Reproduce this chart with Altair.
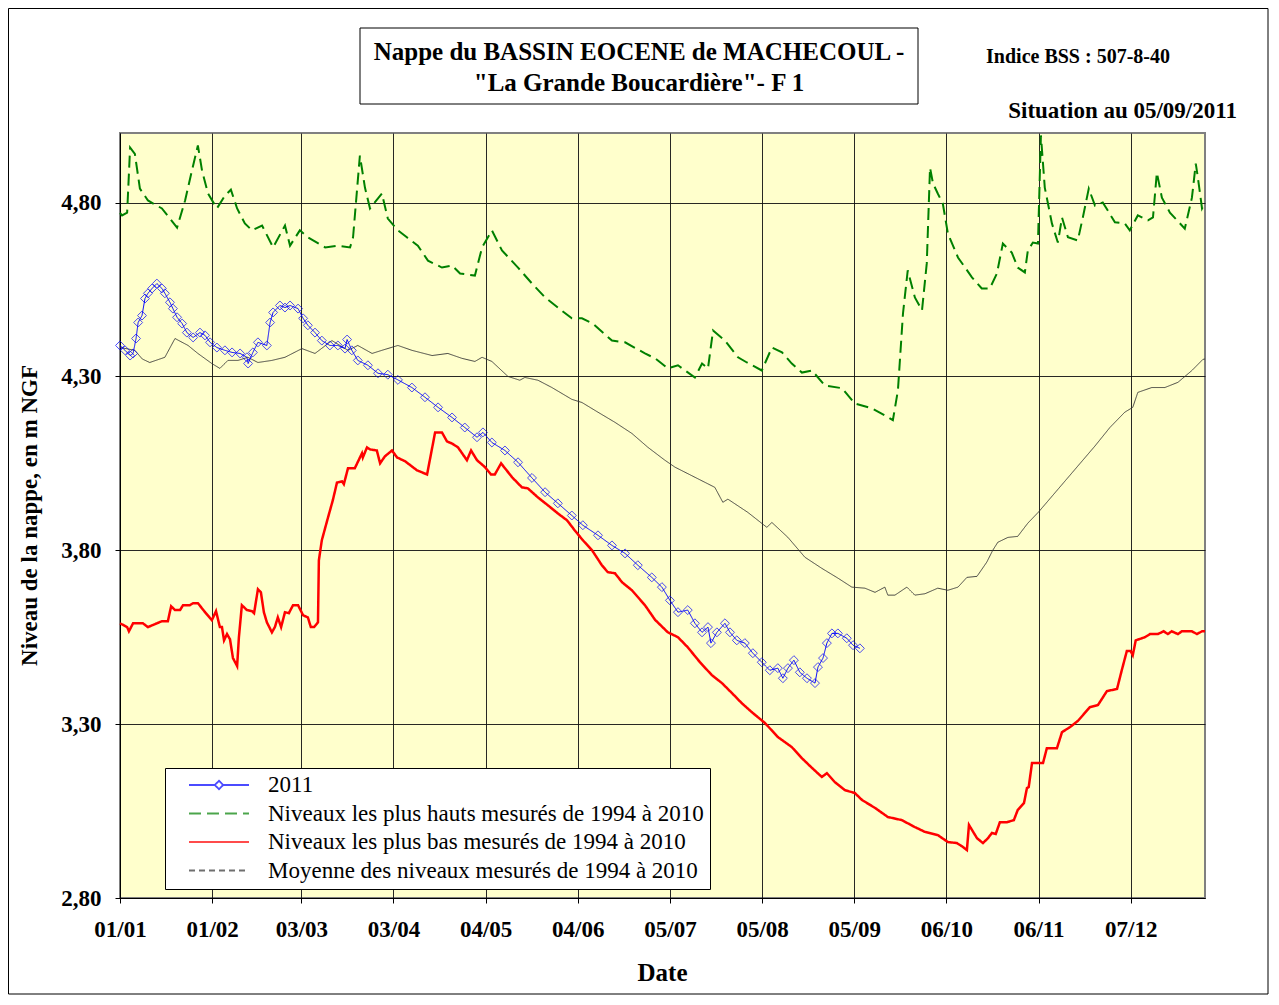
import altair as alt
import pandas as pd

# ---- series names / colours ----
S2011 = "2011"
SMAX = "Niveaux les plus hauts mesurés de 1994 à 2010"
SMIN = "Niveaux les plus bas mesurés de 1994 à 2010"
SMEAN = "Moyenne des niveaux mesurés de 1994 à 2010"
series_names = [S2011, SMAX, SMIN, SMEAN]
series_colors = ["#0000FF", "#008000", "#FF0000", "#333333"]
series_dashes = [[1, 0], [12, 6], [1, 0], [6, 4]]

# ---- axis ticks ----
tick_days = [0, 31, 61, 92, 123, 154, 185, 216, 247, 278, 309, 340]
tick_labels = ["01/01", "01/02", "03/03", "03/04", "04/05", "04/06",
               "05/07", "05/08", "05/09", "06/10", "06/11", "07/12"]
y_ticks = [2.8, 3.3, 3.8, 4.3, 4.8]

# ---- data: (day of year, level in m NGF) ----
niv_2011 = [
    (0, 4.389), (1.7, 4.375), (3.4, 4.36), (4.4, 4.366), (5.4, 4.409), (6.1, 4.455),
    (7.4, 4.475), (8.4, 4.524), (9.4, 4.539), (10.8, 4.553), (12.4, 4.567), (14.1, 4.553),
    (15.1, 4.539), (16.8, 4.513), (17.8, 4.495), (19.2, 4.47), (20.9, 4.452), (22.5, 4.426),
    (24.6, 4.412), (26.9, 4.426), (28.6, 4.418), (30.3, 4.398), (32.6, 4.383), (35.3, 4.375),
    (37.7, 4.369), (40.4, 4.366), (42.7, 4.355), (43.1, 4.337), (44.7, 4.369), (46.4, 4.398),
    (49.4, 4.389), (50.5, 4.455), (51.5, 4.484), (53.8, 4.504), (55.5, 4.498), (57.2, 4.504),
    (59.9, 4.495), (61.6, 4.467), (63.2, 4.447), (65.6, 4.426), (67.9, 4.403), (70.6, 4.389),
    (73.3, 4.389), (75.7, 4.38), (76.4, 4.406), (78, 4.375), (80, 4.346), (83.4, 4.332),
    (86.8, 4.309), (90.1, 4.305), (93.5, 4.29), (98.2, 4.268), (102.6, 4.24), (107, 4.211),
    (111.7, 4.182), (116, 4.153), (120.1, 4.125), (122.1, 4.139), (125.1, 4.11), (129.5, 4.087),
    (133.9, 4.053), (138.6, 4.008), (143, 3.967), (147.3, 3.935), (152, 3.90), (155.7, 3.872),
    (160.8, 3.843), (165.5, 3.814), (169.9, 3.791), (174.2, 3.757), (178.9, 3.722), (182.3, 3.694),
    (185, 3.656), (187.7, 3.622), (191, 3.628), (193.4, 3.59), (195.8, 3.564), (197.8, 3.579),
    (198.8, 3.533), (200.8, 3.564), (203.5, 3.59), (205.2, 3.564), (207.5, 3.541), (210.2, 3.533),
    (212.9, 3.504), (215.9, 3.478), (218.6, 3.455), (221.3, 3.461), (223, 3.432), (224.7, 3.461),
    (226.7, 3.484), (228.7, 3.449), (231.1, 3.432), (233.8, 3.418), (234.8, 3.464), (236.5, 3.49),
    (237.8, 3.533), (239.5, 3.561), (241.5, 3.561), (244.5, 3.547), (246.6, 3.527), (248.9, 3.518),
]

niv_max = [
    (0, 4.77), (0.7, 4.763), (2.4, 4.771), (3.4, 4.958), (5.0, 4.94), (6.7, 4.84), (9.4, 4.806),
    (14.1, 4.783), (19.2, 4.728), (21.9, 4.806), (24.2, 4.892), (26.2, 4.964), (27.6, 4.892),
    (29.6, 4.826), (32.6, 4.783), (35.3, 4.82), (37.3, 4.837), (39.4, 4.783), (42, 4.74),
    (44.4, 4.72), (47.8, 4.734), (51.5, 4.671), (55.5, 4.734), (57.2, 4.676), (60.5, 4.72),
    (63.2, 4.70), (69, 4.671), (73.3, 4.676), (77.4, 4.671), (78.4, 4.70), (80.7, 4.935),
    (82.4, 4.843), (84.1, 4.783), (88.1, 4.826), (90.1, 4.754), (93.5, 4.72), (96.5, 4.70),
    (100.2, 4.676), (103.6, 4.633), (108.3, 4.613), (111.7, 4.619), (114.4, 4.596), (119.4, 4.59),
    (121.8, 4.671), (125.1, 4.72), (128.5, 4.662), (133.9, 4.613), (138.6, 4.567), (143, 4.527),
    (147.3, 4.498), (152, 4.467), (155.4, 4.467), (159.1, 4.452), (165.5, 4.403), (169.9, 4.398),
    (176.6, 4.366), (180, 4.352), (184.3, 4.323), (187.7, 4.332), (193.4, 4.297), (195.8, 4.337),
    (197.8, 4.323), (199.5, 4.432), (203.5, 4.403), (207.9, 4.355), (210.9, 4.34), (215.9, 4.317),
    (219.3, 4.383), (222.7, 4.369), (226, 4.337), (229.4, 4.311), (232.8, 4.317), (237.1, 4.274),
    (242.9, 4.266), (247.2, 4.222), (253, 4.208), (257.3, 4.188), (260, 4.174), (261.7, 4.26),
    (263.4, 4.481), (265, 4.605), (267.4, 4.527), (269.8, 4.49), (271.4, 4.625), (272.5, 4.90),
    (273.5, 4.855), (275.1, 4.826), (276.8, 4.797), (278.5, 4.711), (281.9, 4.642), (286.6, 4.585),
    (289.9, 4.553), (292.6, 4.553), (295, 4.596), (297, 4.682), (300, 4.656), (302, 4.613),
    (304.4, 4.599), (305.4, 4.662), (307.1, 4.685), (308.8, 4.682), (309.8, 4.993), (311.1, 4.843),
    (313.5, 4.74), (315.5, 4.685), (316.9, 4.757), (318.9, 4.70), (322.2, 4.691), (323.9, 4.757),
    (325.9, 4.84), (328, 4.791), (330.6, 4.80), (332.3, 4.777), (334.7, 4.743), (338, 4.74),
    (339.7, 4.72), (342.4, 4.763), (345.8, 4.749), (347.5, 4.757), (348.8, 4.886), (350.5, 4.814),
    (353.2, 4.771), (358.2, 4.725), (360.6, 4.814), (361.9, 4.912), (362.6, 4.872), (364, 4.783),
    (365, 4.80),
]

niv_min = [
    (0, 3.59), (2.4, 3.579), (3, 3.567), (4.4, 3.59), (7.7, 3.59), (9.4, 3.579), (12.4, 3.59),
    (14.1, 3.596), (16.1, 3.596), (17.2, 3.639), (18.5, 3.628), (20.2, 3.628), (21.2, 3.642),
    (23.5, 3.642), (24.6, 3.648), (26.2, 3.648), (28.6, 3.622), (30.9, 3.599), (32.3, 3.625),
    (33.6, 3.579), (34.3, 3.579), (35, 3.541), (36, 3.559), (37, 3.544), (38, 3.49), (39.4, 3.467),
    (40, 3.55), (41, 3.642), (42.7, 3.628), (44.4, 3.625), (45.1, 3.619), (46.4, 3.688),
    (47.4, 3.679), (48.4, 3.622), (49.4, 3.593), (51.1, 3.564), (52.1, 3.579), (53.1, 3.607),
    (54.2, 3.579), (55.5, 3.622), (56.8, 3.619), (58.2, 3.642), (59.9, 3.642), (61.6, 3.613),
    (63.2, 3.607), (64.2, 3.579), (65.3, 3.579), (66.6, 3.593), (66.9, 3.771), (67.9, 3.829),
    (70, 3.895), (71.6, 3.944), (73, 3.995), (74.7, 3.998), (75.3, 3.99), (76.7, 4.036), (79, 4.036),
    (81.4, 4.079), (81.7, 4.067), (83.1, 4.096), (84.1, 4.09), (86.4, 4.087), (87.5, 4.05),
    (89.1, 4.07), (91.5, 4.087), (93.2, 4.067), (95.9, 4.056), (99.9, 4.03), (103.3, 4.018),
    (106, 4.139), (108.3, 4.139), (110, 4.113), (111.7, 4.107), (113.7, 4.096), (116.7, 4.059),
    (118.1, 4.087), (120.1, 4.059), (122.8, 4.039), (124.8, 4.018), (126.1, 4.018), (128.2, 4.05),
    (131.9, 4.01), (135.2, 3.981), (137.2, 3.978), (140.6, 3.952), (144, 3.929), (147.3, 3.906),
    (150.4, 3.886), (153, 3.857), (155.7, 3.829), (158.8, 3.80), (162.1, 3.757), (164.1, 3.737),
    (166.5, 3.734), (168.9, 3.708), (172.2, 3.685), (176.6, 3.642), (180, 3.60), (184.3, 3.564),
    (187.7, 3.55), (191, 3.521), (195.1, 3.478), (199.1, 3.441), (202.5, 3.418), (205.9, 3.389),
    (209.2, 3.36), (212.6, 3.334), (217, 3.303), (221.3, 3.263), (226, 3.234), (229.4, 3.202),
    (232.8, 3.174), (236.1, 3.148), (237.8, 3.159), (240.5, 3.133), (243.9, 3.11), (247.2, 3.102),
    (249.6, 3.082), (254, 3.059), (258.3, 3.033), (263, 3.024), (267.4, 3.004), (270.8, 2.99),
    (275.1, 2.981), (278.5, 2.961), (281.5, 2.958), (283.2, 2.949), (284.9, 2.938), (285.6, 3.01),
    (288.3, 2.972), (290.3, 2.958), (292, 2.972), (293.3, 2.987), (294.6, 2.984), (296, 3.018),
    (298.4, 3.018), (300.7, 3.024), (302, 3.053), (304.1, 3.073), (305.1, 3.116), (305.7, 3.119),
    (306.8, 3.188), (310.5, 3.188), (311.8, 3.231), (315.2, 3.231), (316.9, 3.277), (319.5, 3.291),
    (322.2, 3.309), (326.3, 3.349), (329, 3.355), (332, 3.395), (335.4, 3.401), (337, 3.455),
    (338.7, 3.51), (340, 3.51), (340.7, 3.498), (341.7, 3.541), (344.8, 3.55), (346.5, 3.559),
    (349.1, 3.559), (351.1, 3.567), (352.5, 3.559), (353.8, 3.567), (355.9, 3.559), (357.2, 3.567),
    (360.6, 3.567), (362.3, 3.559), (364, 3.567), (365, 3.567),
]

niv_moy = [
    (0, 4.383), (2, 4.38), (5, 4.375), (7.5, 4.35), (10, 4.34), (15.1, 4.355), (18.5, 4.409),
    (22.9, 4.389), (26.2, 4.366), (30.9, 4.337), (33.6, 4.323), (36.3, 4.346), (39.7, 4.346),
    (43, 4.355), (46.4, 4.34), (51.1, 4.346), (55.5, 4.355), (61.2, 4.38), (65.6, 4.366),
    (71.3, 4.403), (76.7, 4.375), (80, 4.389), (84.8, 4.366), (88.1, 4.375), (93.5, 4.389),
    (98.2, 4.375), (105, 4.36), (110.3, 4.366), (115, 4.352), (119.4, 4.343), (121.8, 4.355),
    (125.1, 4.343), (130.5, 4.30), (134.5, 4.289), (136.2, 4.297), (140.6, 4.289), (145.3, 4.268),
    (152, 4.234), (155.4, 4.225), (160.8, 4.197), (166.5, 4.168), (172.2, 4.136), (177.6, 4.096),
    (183.3, 4.059), (186.7, 4.039), (193.4, 4.01), (200.1, 3.981), (202.8, 3.938), (204.5, 3.947),
    (211.2, 3.909), (217.6, 3.866), (219.3, 3.88), (224.7, 3.837), (230.4, 3.78), (236.1, 3.748),
    (241.5, 3.72), (246.2, 3.694), (250.6, 3.691), (254, 3.679), (257.3, 3.694), (258.3, 3.671),
    (260.7, 3.671), (264.7, 3.694), (267.4, 3.671), (270.8, 3.675), (275.1, 3.691), (278.5, 3.685),
    (281.9, 3.694), (284.9, 3.722), (288.3, 3.725), (291.6, 3.766), (293.6, 3.80), (295.3, 3.823),
    (298.7, 3.837), (302, 3.84), (305.4, 3.878), (309, 3.91), (313, 3.95), (318, 4.00), (323, 4.05),
    (328, 4.10), (333, 4.153), (338, 4.197), (340.7, 4.211), (342.4, 4.254), (347.1, 4.268),
    (351.5, 4.268), (355.9, 4.283), (360.6, 4.317), (364.3, 4.349), (365, 4.35),
]


def frame(pairs, name):
    return pd.DataFrame({"jour": [p[0] for p in pairs],
                         "niveau": [p[1] for p in pairs],
                         "serie": name})


df = pd.concat([frame(niv_moy, SMEAN), frame(niv_max, SMAX),
                frame(niv_min, SMIN), frame(niv_2011, S2011)], ignore_index=True)

FONT = "Liberation Serif"

label_expr_x = ("[" + ",".join("'%s'" % t for t in tick_labels) + "][indexof(["
                + ",".join(str(d) for d in tick_days) + "], datum.value)]")

x_enc = alt.X("jour:Q",
              scale=alt.Scale(domain=[0, 365], nice=False, zero=False),
              axis=alt.Axis(values=tick_days, labelExpr=label_expr_x, title="Date",
                            labelFont=FONT, labelFontSize=23, labelFontWeight="bold",
                            labelPadding=15, labelOverlap=False, labelFlush=False,
                            titleFont=FONT, titleFontSize=25, titleFontWeight="bold",
                            titleX=542, titleY=74, titleBaseline="middle",
                            grid=True, tickSize=5))
y_enc = alt.Y("niveau:Q",
              scale=alt.Scale(domain=[2.8, 5.0], nice=False, zero=False),
              axis=alt.Axis(values=y_ticks,
                            labelExpr="replace(format(datum.value, '.2f'), '.', ',')",
                            title="Niveau de la nappe, en m NGF",
                            labelFont=FONT, labelFontSize=23, labelFontWeight="bold",
                            labelPadding=14, titleFont=FONT, titleFontSize=23,
                            titleFontWeight="bold", titleX=-91, titleY=382,
                            titleAlign="center", titleBaseline="middle",
                            grid=True, tickSize=5))

leg = alt.Legend(orient="none", legendX=45, legendY=635, title=None)
color_enc = alt.Color("serie:N", scale=alt.Scale(domain=series_names, range=series_colors),
                      legend=leg)
dash_enc = alt.StrokeDash("serie:N", scale=alt.Scale(domain=series_names, range=series_dashes),
                          legend=leg)
diamond_line = "M-1,0H-0.14M0.14,0H1M0,-0.14L0.14,0L0,0.14L-0.14,0Z"
plain_line = "M-1,0H1"
shape_enc = alt.Shape("serie:N",
                      scale=alt.Scale(domain=series_names,
                                      range=[diamond_line, plain_line, plain_line, plain_line]),
                      legend=leg)

base = alt.Chart(df)


def line_layer(name, width, solid=False):
    dash = alt.value([1, 0]) if solid else dash_enc
    return base.transform_filter(alt.datum.serie == name).mark_line(strokeWidth=width).encode(
        x=x_enc, y=y_enc, color=color_enc, strokeDash=dash)


points_2011 = base.transform_filter(alt.datum.serie == S2011).mark_point(
    shape="diamond", filled=False, size=80, strokeWidth=1, color="#0000FF").encode(
    x=x_enc, y=y_enc)

legend_layer = base.transform_filter(alt.datum.serie == "aucune").mark_point(
    filled=False).encode(x=x_enc, y=y_enc, color=color_enc, strokeDash=dash_enc, shape=shape_enc)

one = pd.DataFrame({"k": [0]})
outer_box = alt.Chart(one).mark_rect(fillOpacity=0, stroke="#000000", strokeWidth=1).encode(
    x=alt.value(-111.5), x2=alt.value(1148), y=alt.value(-124.5), y2=alt.value(861))
title_box = alt.Chart(one).mark_rect(fill="white", stroke="#000000", strokeWidth=1).encode(
    x=alt.value(240), x2=alt.value(798), y=alt.value(-105), y2=alt.value(-29))


def text_layer(txt, x, y, size, align="center"):
    return alt.Chart(one).mark_text(font=FONT, fontWeight="bold", fontSize=size, align=align,
                                    baseline="middle", color="black").encode(
        x=alt.value(x), y=alt.value(y), text=alt.value(txt))


chart = alt.layer(
    outer_box, title_box,
    line_layer(SMEAN, 0.9, solid=True), line_layer(SMAX, 2), line_layer(SMIN, 2.5),
    line_layer(S2011, 1), points_2011, legend_layer,
    text_layer("Nappe du BASSIN EOCENE de MACHECOUL  -", 519, -81, 25),
    text_layer('"La Grande Boucardière"- F 1', 519, -50, 25),
    text_layer("Indice BSS : 507-8-40", 958, -76, 20),
    text_layer("Situation au 05/09/2011", 1117, -22, 23, align="right"),
).properties(
    width=1085, height=765,
    background="white",
    autosize=alt.AutoSizeParams(type="none"),
    padding={"left": 112, "top": 125, "right": 64, "bottom": 97},
).configure_view(
    fill="#FFFFCC", stroke="#808080", strokeWidth=2
).configure_axis(
    gridColor="#111111", gridWidth=1, gridOpacity=0.9, domainColor="#000000",
    tickColor="#000000", labelColor="#000000", titleColor="#000000"
).configure_legend(
    fillColor="white", strokeColor="#000000", padding=6, labelFont=FONT, labelFontSize=23,
    labelLimit=800, labelColor="#000000", symbolSize=3600, symbolStrokeWidth=1.8,
    clipHeight=22, rowPadding=5.5, symbolOffset=17, labelOffset=18, symbolType="stroke",
    symbolFillColor="white"
)

chart.save("out.html", embed_options={"renderer": "svg", "actions": False})
